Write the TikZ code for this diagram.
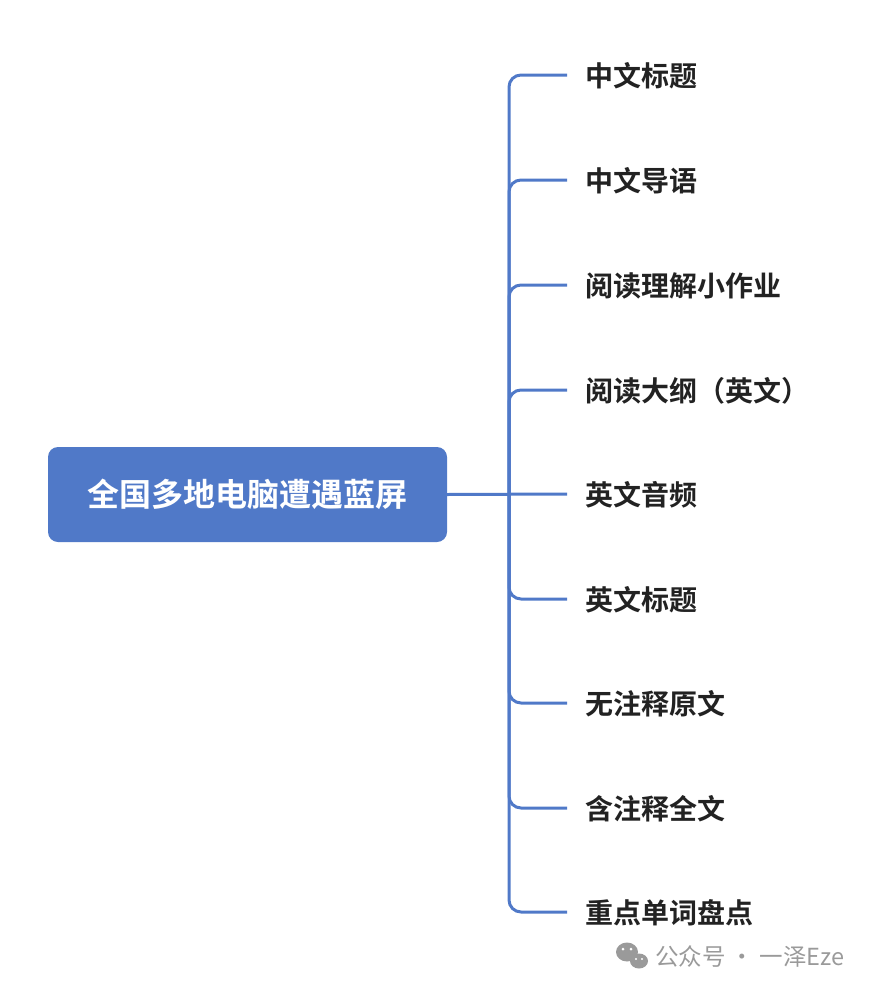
\documentclass[tikz,border=0pt]{standalone}
\usepackage{fontspec}
\setmainfont{Noto Sans CJK SC}
\newfontfamily\cjkb{Noto Sans CJK SC}[BoldFont={Noto Sans CJK SC Bold}]
\definecolor{bl}{HTML}{5079C8}
\definecolor{tx}{HTML}{222222}
\definecolor{wm}{HTML}{9A9A9A}
\begin{document}
\begin{tikzpicture}[x=1pt,y=-1pt,
  leaf/.style={anchor=west,inner sep=0pt,font=\cjkb\bfseries\fontsize{28}{32}\selectfont,text=tx},
  conn/.style={draw=bl,line width=3pt,rounded corners=12pt}]
\useasboundingbox (0,0) rectangle (872,990);
\node[fill=bl,rounded corners=10pt,minimum width=399pt,minimum height=95pt,inner sep=0pt,
  text=white,font=\cjkb\bfseries\fontsize{32}{36}\selectfont] (r) at (247.5,494.5) {全国多地电脑遭遇蓝屏};
\coordinate (sp) at (509,494);
\foreach \i/\y/\t in {1/76/中文标题,2/181/中文导语,3/286/阅读理解小作业,4/391/阅读大纲（英文）,5/495/英文音频,6/600/英文标题,7/704/无注释原文,8/809/含注释全文,9/913/重点单词盘点}{
  \node[leaf] (n\i) at (585,\y) {\t};
  \coordinate (e\i) at (567,\y-1);
}
\foreach \i in {1,2,3,4,6,7,8,9}{\draw[conn] (sp) |- (e\i);}
\draw[conn] (r.east) -- (e5);
\node[anchor=west,inner sep=0pt,text=wm,font=\fontsize{23.5}{26}\selectfont] (w) at (655,956) {公众号 · 一泽Eze};
\fill[wm] (627,952) ellipse (11pt and 9.5pt);
\fill[wm] (639,961) ellipse (9pt and 7.5pt);
\fill[white] (623,949) circle (1.5pt) (631,949) circle (1.5pt) (636,959) circle (1.2pt) (642,959) circle (1.2pt);
\end{tikzpicture}
\end{document}
